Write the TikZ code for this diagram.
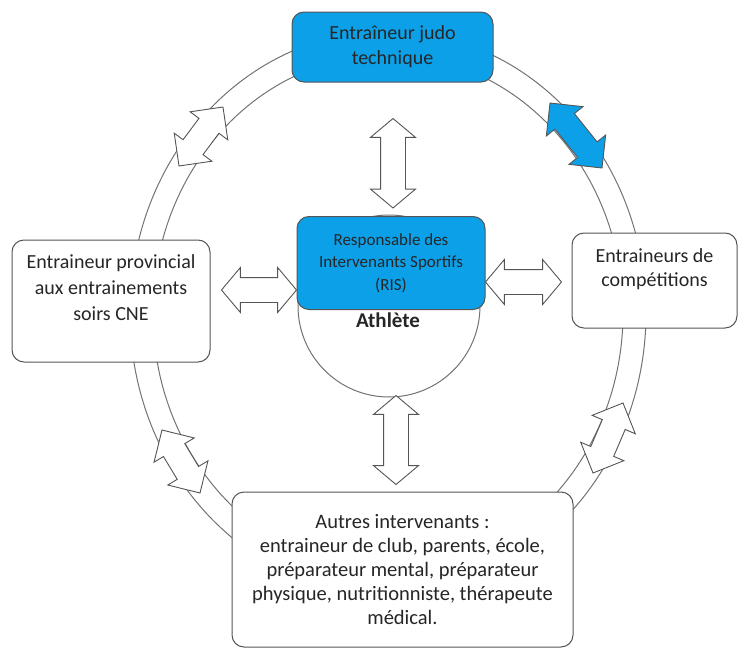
\documentclass[tikz,border=0pt]{standalone}
\usepackage{fontspec}
\setmainfont{Carlito}
\usetikzlibrary{calc,shapes.arrows}

\definecolor{risblue}{RGB}{12,160,232}
\definecolor{edgegray}{RGB}{85,85,85}
\definecolor{ringgray}{RGB}{115,115,115}

\tikzset{
  box/.style={draw=edgegray, fill=white, line width=1pt, rounded corners=12pt, align=center,
    font=\fontsize{20}{25}\selectfont, text=black!85},
  bluebox/.style={box, fill=risblue},
  ringline/.style={draw=ringgray, line width=1pt},
  dblarrow/.style={double arrow, draw=edgegray, fill=white, line width=0.9pt,
    inner xsep=0pt, inner ysep=12pt, double arrow head extend=11pt,
    double arrow tip angle=90},
  midarrow/.style={dblarrow, double arrow head extend=10pt, double arrow tip angle=100},
}

% block arrow between two points
\newcommand\blockarrow[3][]{%
  \path let \p1=($(#3)-(#2)$), \n1={veclen(\x1,\y1)}, \n2={atan2(\y1,\x1)} in
    node[dblarrow,#1,minimum height=\n1,rotate=\n2] at ($(#2)!0.5!(#3)$) {};}

\begin{document}
\begin{tikzpicture}[x=1pt,y=-1pt]
\useasboundingbox (0,0) rectangle (740,648);

% ring
\draw[ringline] (388,313) ellipse [x radius=258, y radius=282];
\draw[ringline] (388,313) ellipse [x radius=235, y radius=258];

% arrows on the ring
\coordinate (ul1) at (179,166);
\coordinate (ul2) at (223,107);
\coordinate (ur1) at (550,103);
\coordinate (ur2) at (602,168);
\coordinate (ll1) at (162,430);
\coordinate (ll2) at (200,493);
\coordinate (lr1) at (623,403);
\coordinate (lr2) at (593,473);
\blockarrow{ul1}{ul2}
\blockarrow[fill=risblue]{ur1}{ur2}
\blockarrow{ll1}{ll2}
\blockarrow{lr1}{lr2}

% boxes
\node[bluebox, minimum width=201pt, minimum height=70pt] (judo) at (392.5,47)
  {Entraîneur judo\\technique};
\node[box, minimum width=198pt, minimum height=122pt, text depth=26pt,
  font=\fontsize{20}{26}\selectfont] (prov) at (111,301)
  {Entraineur provincial\\aux entrainements\\soirs CNE};
\node[box, minimum width=165pt, minimum height=95pt, text depth=26pt,
  font=\fontsize{20}{24}\selectfont] (compet) at (654.5,280.5)
  {Entraineurs de\\compétitions};
\node[box, minimum width=341pt, minimum height=155pt,
  font=\fontsize{20.5}{24}\selectfont] (autres) at (402.5,569.5)
  {Autres intervenants :\\entraineur de club, parents, école,\\préparateur mental, préparateur\\physique, nutritionniste, thérapeute\\médical.};

% athlete
\node[circle, draw=ringgray, fill=white, line width=1pt, minimum size=182pt, inner sep=0pt] (athl) at (389,306) {};
\node[bluebox, minimum width=188pt, minimum height=93pt, font=\fontsize{17}{22.5}\selectfont] (ris) at (391,263)
  {Responsable des\\Intervenants Sportifs\\(RIS)};
\node[font=\fontsize{21}{22}\selectfont\bfseries, text=black!85] (athtxt) at (388,320) {Athlète};

% arrows round the RIS
\coordinate (t1) at ($(judo.south)+(0.5,36)$);
\coordinate (t2) at ($(ris.north)+(2,-8)$);
\coordinate (l1) at ($(prov.east)+(11,-11)$);
\coordinate (l2) at (ris.west |- l1);
\coordinate (r2) at ($(compet.west)+(-10,1.5)$);
\coordinate (r1) at (ris.east |- r2);
\coordinate (b1) at ($(athl.south)+(7,-2)$);
\coordinate (b2) at ($(autres.north)+(-6.5,-7)$);
\blockarrow[midarrow]{t1}{t2}
\blockarrow[midarrow]{l1}{l2}
\blockarrow[midarrow]{r1}{r2}
\blockarrow[midarrow]{b1}{b2}
\end{tikzpicture}
\end{document}
